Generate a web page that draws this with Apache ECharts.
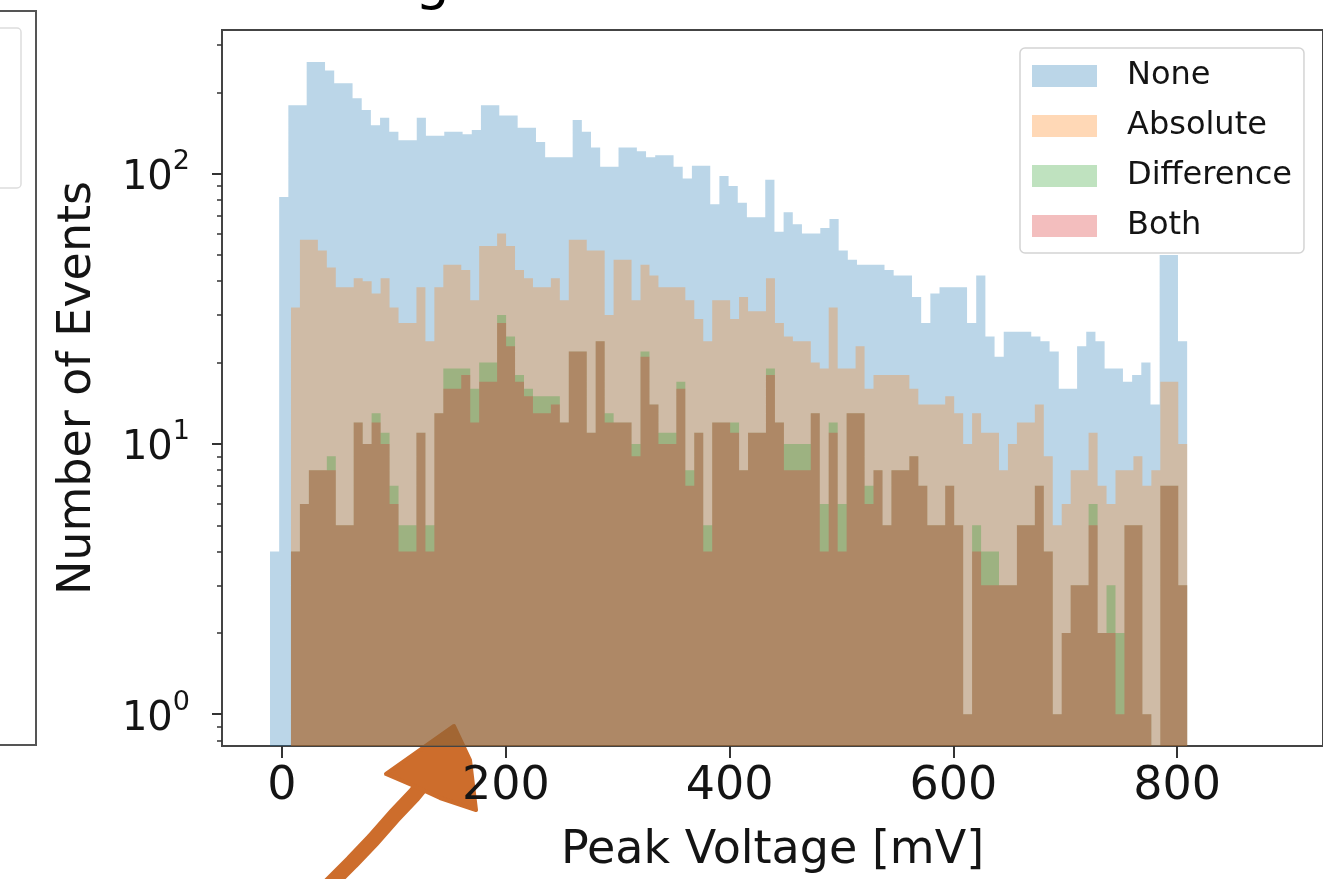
<!DOCTYPE html>
<html>
<head>
<meta charset="utf-8">
<script src="https://cdn.jsdelivr.net/npm/echarts@6/dist/echarts.min.js"></script>
<style>
  html, body { margin: 0; padding: 0; background: #fff; }
  #chart { width: 1323px; height: 879px; }
</style>
</head>
<body>
<div id="chart"></div>
<script>
// histogram names, in drawing order
const categories = ['None', 'Absolute', 'Difference', 'Both'];

// bin layout (mV): "None" was binned over its own range, the cut samples over theirs
const noneStart = -10.7;
const noneWidth = 8.196;
const cutStart = 8.04;
const cutWidth = 8.009;

// counts per bin (100 bins each)
const noneCounts = [
  4, 82, 179, 179, 259, 259, 241, 216, 216, 190,
  172, 151, 161, 143, 133, 133, 161, 138, 138, 143,
  143, 140, 145, 179, 179, 164, 164, 148, 148, 131,
  115, 115, 115, 158, 143, 125, 106, 106, 125, 125,
  121, 115, 117, 117, 106, 96, 107, 107, 77, 98,
  90, 78, 69, 69, 95, 61, 72, 65, 60, 60,
  63, 68, 52, 48, 46, 46, 46, 44, 42, 42,
  35, 28, 36, 38, 38, 38, 28, 42, 25, 21,
  26, 26, 26, 25, 24, 22, 16, 16, 23, 26,
  24, 19, 19, 17, 18, 20, 14, 50, 50, 24
];
const absoluteCounts = [
  32, 57, 57, 52, 45, 38, 38, 41, 40, 36,
  41, 32, 28, 28, 38, 24, 38, 46, 46, 44,
  34, 54, 54, 60, 54, 44, 41, 38, 38, 41,
  34, 57, 57, 52, 52, 30, 48, 48, 34, 46,
  42, 38, 38, 38, 34, 29, 24, 34, 34, 29,
  35, 31, 31, 41, 28, 25, 24, 24, 20, 19,
  32, 19, 19, 23, 16, 18, 18, 18, 18, 16,
  14, 14, 14, 15, 13, 10, 13, 11, 11, 8,
  10, 12, 12, 14, 9, 5, 6, 8, 8, 11,
  7, 6, 8, 8, 9, 7, 8, 17, 17, 10
];
const differenceCounts = [
  4, 6, 8, 8, 9, 5, 5, 12, 10, 13,
  11, 7, 5, 5, 11, 5, 13, 19, 19, 19,
  16, 20, 20, 30, 25, 18, 16, 15, 15, 15,
  12, 22, 22, 11, 24, 13, 12, 12, 10, 22,
  14, 11, 11, 17, 8, 11, 5, 12, 12, 12,
  8, 11, 11, 19, 12, 10, 10, 10, 13, 6,
  12, 6, 13, 13, 7, 8, 5, 8, 8, 9,
  7, 5, 5, 7, 5, 1, 5, 4, 4, 3,
  3, 5, 5, 7, 4, 1, 2, 3, 3, 6,
  2, 3, 2, 5, 5, 1, 0, 7, 7, 3
];
const bothCounts = [
  4, 6, 8, 8, 8, 5, 5, 12, 10, 12,
  10, 6, 4, 4, 11, 4, 13, 16, 16, 18,
  12, 17, 17, 28, 23, 17, 15, 13, 13, 14,
  12, 22, 22, 11, 24, 12, 12, 12, 9, 21,
  14, 10, 10, 16, 7, 11, 4, 12, 12, 11,
  8, 11, 11, 18, 12, 8, 8, 8, 13, 4,
  11, 4, 13, 13, 6, 8, 5, 8, 8, 9,
  7, 5, 5, 7, 5, 1, 4, 3, 3, 3,
  3, 5, 5, 7, 4, 1, 2, 3, 3, 5,
  2, 2, 1, 5, 5, 1, 0, 7, 7, 3
];

// axes
const xTicks = [0, 200, 400, 600, 800];
const yTicks = [1, 10, 100];
const yMinorTicks = [0.8, 0.9, 2, 3, 4, 5, 6, 7, 8, 9, 20, 30, 40, 50, 60, 70, 80, 90, 200, 300];
const xMin = -53.6, xMax = 930.3;
const yMin = 0.763, yMax = 340;

const FONT = "'DejaVu Sans', sans-serif";
const INK = '#141414';
const colors = ['rgba(31,119,180,0.3)', 'rgba(255,127,14,0.3)', 'rgba(44,160,44,0.3)', 'rgba(214,39,40,0.3)'];

/**
 * One step-filled histogram, drawn as a single polygon so that
 * the translucent fills do not show seams between neighbouring bins.
 */
function histSeries(name, color, start, width, counts) {
    const data = counts.map((c, i) => [start + i * width, start + (i + 1) * width, c]);
    return {
        name: name,
        type: 'custom',
        coordinateSystem: 'cartesian2d',
        clip: true,
        silent: true,
        itemStyle: { color: color },
        encode: { x: [0, 1], y: 2 },
        data: data,
        renderItem: (params, api) => {
            if (params.dataIndexInside !== 0) return;
            const n = params.dataInsideLength;
            const pts = [api.coord([api.value(0, 0), yMin])];
            for (let i = 0; i < n; i++) {
                const v = api.value(2, i);
                const y = v > 0 ? v : yMin;
                pts.push(api.coord([api.value(0, i), y]));
                pts.push(api.coord([api.value(1, i), y]));
            }
            pts.push(api.coord([api.value(1, n - 1), yMin]));
            return { type: 'polygon', shape: { points: pts }, style: { fill: color } };
        }
    };
}

const chart = echarts.init(document.getElementById('chart'), null, { renderer: 'canvas' });

const option = {
    animation: false,
    backgroundColor: '#fff',
    textStyle: { fontFamily: FONT },
    grid: {
        left: 222, top: 30, width: 1102, height: 720,
        show: true, borderColor: '#444', borderWidth: 2, backgroundColor: '#fff'
    },
    legend: {
        orient: 'vertical', left: 1020, top: 48,
        icon: 'rect', itemWidth: 65, itemHeight: 22, itemGap: 14,
        padding: [10, 12, 9, 12],
        borderColor: '#d4d4d4', borderWidth: 1.5, borderRadius: 5,
        backgroundColor: 'rgba(255,255,255,0.8)',
        textStyle: { fontFamily: FONT, fontSize: 32, lineHeight: 36, color: INK, padding: [0, 0, 0, 25] },
        data: categories
    },
    xAxis: {
        type: 'value', min: xMin, max: xMax,
        name: 'Peak Voltage [mV]', nameLocation: 'middle', nameGap: 82,
        nameTextStyle: { fontFamily: FONT, fontSize: 46, color: INK },
        axisLine: { show: true, onZero: false, lineStyle: { color: '#444', width: 2 } },
        axisTick: { show: true, customValues: xTicks, length: 12, lineStyle: { color: '#333', width: 2 } },
        axisLabel: { customValues: xTicks, margin: 18, fontFamily: FONT, fontSize: 46, color: INK },
        splitLine: { show: false }
    },
    yAxis: [{
        type: 'log', logBase: 10, min: yMin, max: yMax, position: 'left',
        name: 'Number of Events', nameLocation: 'middle', nameGap: 121,
        nameTextStyle: { fontFamily: FONT, fontSize: 46, color: INK },
        axisLine: { show: true, onZero: false, lineStyle: { color: '#444', width: 2 } },
        axisTick: { show: true, customValues: yTicks, length: 10, lineStyle: { color: '#333', width: 2 } },
        axisLabel: {
            customValues: yTicks, margin: 32,
            formatter: (v) => '{b|10}{s|' + Math.round(Math.log10(v)) + '}',
            rich: {
                b: { fontFamily: FONT, fontSize: 40, color: INK, lineHeight: 50, verticalAlign: 'bottom' },
                s: { fontFamily: FONT, fontSize: 27, color: INK, lineHeight: 50, verticalAlign: 'top' }
            }
        },
        splitLine: { show: false }
    }, {
        // minor ticks only
        type: 'log', logBase: 10, min: yMin, max: yMax, position: 'left',
        axisLine: { show: false, onZero: false },
        axisTick: { show: true, customValues: yMinorTicks, length: 5, lineStyle: { color: '#333', width: 1.5 } },
        axisLabel: { show: false },
        splitLine: { show: false }
    }],
    series: [
        histSeries(categories[0], colors[0], noneStart, noneWidth, noneCounts),
        histSeries(categories[1], colors[1], cutStart, cutWidth, absoluteCounts),
        histSeries(categories[2], colors[2], cutStart, cutWidth, differenceCounts),
        histSeries(categories[3], colors[3], cutStart, cutWidth, bothCounts)
    ],
    graphic: [
        // edge of the neighbouring panel, cut off on the left
        { type: 'rect', shape: { x: -10, y: 11, width: 46, height: 734 },
          style: { fill: null, stroke: '#555', lineWidth: 2 }, silent: true },
        { type: 'rect', shape: { x: -10, y: 28, width: 31, height: 160, r: 4 },
          style: { fill: null, stroke: '#ddd', lineWidth: 1.5 }, silent: true },
        // bottom of the cropped title
        { type: 'text', x: 415, y: -16, silent: true,
          style: { text: 'g', font: "55px 'DejaVu Sans'", fill: '#000', verticalAlign: 'middle' } },
        // hand drawn arrow
        { type: 'polyline', silent: true,
          shape: { points: [[330, 884], [352, 862], [373, 840], [395, 815], [414, 795], [428, 778]] },
          style: { stroke: '#cd6d2c', lineWidth: 15, lineCap: 'round', lineJoin: 'round', fill: null } },
        { type: 'polygon', silent: true,
          shape: { points: [[454, 726], [386, 774], [414, 786], [440, 798], [476, 810], [470, 760]] },
          style: { fill: '#cd6d2c', stroke: '#cd6d2c', lineWidth: 4, lineJoin: 'round' } }
    ]
};

chart.setOption(option);
window.addEventListener('resize', () => chart.resize());
</script>
</body>
</html>
